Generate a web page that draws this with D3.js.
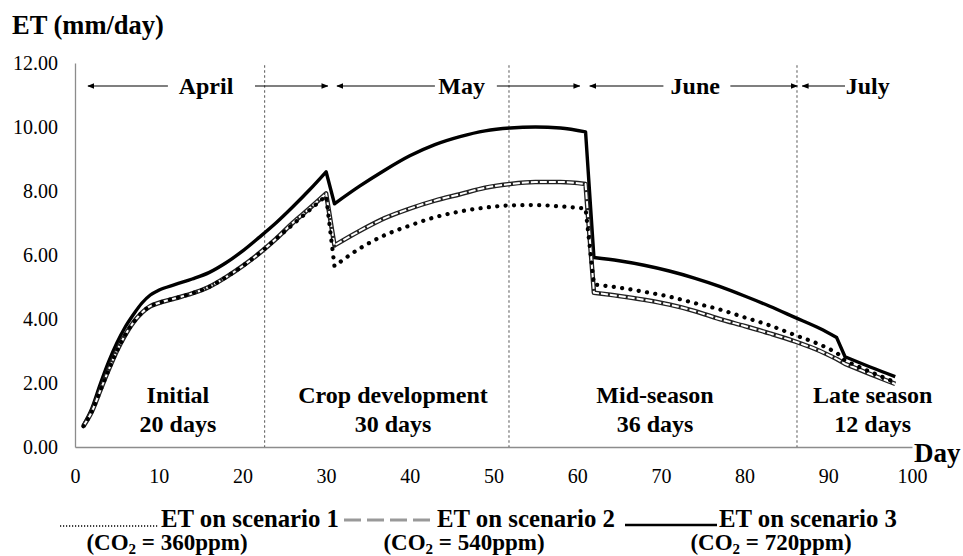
<!DOCTYPE html>
<html>
<head>
<meta charset="utf-8">
<script src="https://cdn.jsdelivr.net/npm/d3@7"></script>
<style>
  body { margin: 0; background: #fff; }
  svg, svg text { font-family: "Times New Roman", "Liberation Serif", Tinos, serif; }
</style>
</head>
<body>
<svg id="chart" width="963" height="556"></svg>
<script>
// ET (mm/day), three CO2 scenarios
const days = [1,2,3,4,5,6,7,8,9,10,12,14,16,18,20,22,24,26,28,30,31,34,37,40,43,46,49,52,55,58,61,62,65,68,71,74,77,80,83,86,89,91,92,95,98];
const et360 = [0.65,1.1,1.75,2.4,3.0,3.5,3.9,4.2,4.4,4.5,4.65,4.8,5.0,5.3,5.65,6.05,6.5,6.95,7.4,7.85,5.65,6.2,6.62,6.92,7.18,7.36,7.48,7.55,7.56,7.52,7.45,5.08,4.98,4.85,4.7,4.5,4.3,4.05,3.8,3.5,3.2,2.95,2.7,2.35,2.02];
const et540 = [0.65,1.1,1.75,2.4,3.0,3.5,3.9,4.2,4.4,4.5,4.65,4.8,5.0,5.3,5.65,6.05,6.5,7.0,7.45,7.92,6.3,6.75,7.15,7.45,7.7,7.9,8.1,8.22,8.28,8.28,8.22,4.82,4.72,4.6,4.45,4.25,4.0,3.78,3.55,3.3,3.0,2.75,2.6,2.28,1.97];
const et720 = [0.68,1.2,1.95,2.65,3.25,3.75,4.15,4.5,4.75,4.9,5.08,5.25,5.45,5.75,6.12,6.55,7.0,7.5,8.03,8.6,7.6,8.15,8.65,9.1,9.45,9.7,9.88,9.97,10.0,9.97,9.85,5.92,5.82,5.68,5.5,5.28,5.02,4.72,4.4,4.05,3.7,3.42,2.82,2.5,2.2];
// days after which the series jumps (drawn straight, not smoothed)
const breaks = [30, 61, 91];

const yTicks = [0,2,4,6,8,10,12];
const xTicks = [0,10,20,30,40,50,60,70,80,90,100];

// growth stage boundaries (day) and labels
const stageBounds = [22.66, 51.85, 86.26];
const stageNames = ['Initial', 'Crop development', 'Mid-season', 'Late season'];
const stageLengths = ['20 days', '30 days', '36 days', '12 days'];
const stageCenters = [12.3, 38, 69.3, 95.3];

// month arrows: [arrow tip, line end near label] pairs, label centre
const months = ['April', 'May', 'June', 'July'];
const monthCenters = [15.65, 46.2, 74.1, 94.7];
const monthLeft = [[1.55, 11.1], [31.3, 43], [61.5, 70.3], [86.9, 92]];
const monthRight = [[30.2, 21.5], [60.3, 50.4], [86.3, 78.3], null];

const svg = d3.select('#chart');
const x = d3.scaleLinear().domain([0, 100]).range([75, 912]);
const y = d3.scaleLinear().domain([0, 12]).range([447, 63]);

// arrow marker
svg.append('defs').append('marker')
  .attr('id', 'arr').attr('viewBox', '0 0 10 10').attr('refX', 9).attr('refY', 5)
  .attr('markerWidth', 7).attr('markerHeight', 7).attr('markerUnits', 'userSpaceOnUse')
  .attr('orient', 'auto')
  .append('path').attr('d', 'M0,1 L10,5 L0,9 Z').attr('fill', '#000');

// axes (plain lines, no ticks)
const gx = svg.append('g').attr('transform', `translate(0,${y(0)})`)
  .call(d3.axisBottom(x).tickValues(xTicks).tickSize(0).tickPadding(22).tickFormat(d3.format('d')));
gx.select('.domain').attr('stroke', '#8c8c8c').attr('stroke-width', 1.3);
gx.selectAll('text').style('font-size', '20px').attr('fill', '#000');

const gy = svg.append('g').attr('transform', `translate(${x(0)},0)`)
  .call(d3.axisLeft(y).tickValues(yTicks).tickSize(0).tickPadding(17).tickFormat(d3.format('.2f')));
gy.select('.domain').attr('stroke', '#8c8c8c').attr('stroke-width', 1.3);
gy.selectAll('text').style('font-size', '20px').attr('fill', '#000');

// stage boundaries
svg.append('g').selectAll('line').data(stageBounds).join('line')
  .attr('x1', d => x(d)).attr('x2', d => x(d))
  .attr('y1', y(11.93)).attr('y2', y(0))
  .attr('stroke', '#555').attr('stroke-width', 1).attr('stroke-dasharray', '2.5,2.5');

// month arrows
const gm = svg.append('g');
monthLeft.forEach(([tip, end]) => {
  gm.append('line').attr('x1', x(end)).attr('x2', x(tip)).attr('y1', 86).attr('y2', 86)
    .attr('stroke', '#000').attr('stroke-width', 1.2).attr('marker-end', 'url(#arr)');
});
monthRight.forEach(p => {
  if (!p) return;
  gm.append('line').attr('x1', x(p[1])).attr('x2', x(p[0])).attr('y1', 86).attr('y2', 86)
    .attr('stroke', '#000').attr('stroke-width', 1.2).attr('marker-end', 'url(#arr)');
});
gm.selectAll('text').data(months).join('text')
  .attr('x', (d, i) => x(monthCenters[i])).attr('y', 94)
  .attr('text-anchor', 'middle').attr('font-size', 24).attr('font-weight', 'bold').text(d => d);

// stage labels
const gs = svg.append('g');
gs.selectAll('text.nm').data(stageNames).join('text').attr('class', 'nm')
  .attr('x', (d, i) => x(stageCenters[i])).attr('y', 403)
  .attr('text-anchor', 'middle').attr('font-size', 24).attr('font-weight', 'bold').text(d => d);
gs.selectAll('text.ln').data(stageLengths).join('text').attr('class', 'ln')
  .attr('x', (d, i) => x(stageCenters[i])).attr('y', 432)
  .attr('text-anchor', 'middle').attr('font-size', 24).attr('font-weight', 'bold').text(d => d);

// lines: smooth inside each stage piece, straight across the jumps
const smooth = d3.line().x(d => x(d[0])).y(d => y(d[1])).curve(d3.curveMonotoneX);
function pathFor(vals) {
  const pts = days.map((d, i) => [d, vals[i]]);
  const pieces = [];
  let cur = [];
  pts.forEach(p => {
    cur.push(p);
    if (breaks.includes(p[0])) { pieces.push(cur); cur = []; }
  });
  if (cur.length) pieces.push(cur);
  return pieces.map((pc, i) => {
    const s = smooth(pc);
    return i === 0 ? s : 'L' + s.slice(1);
  }).join('');
}
const gl = svg.append('g').attr('fill', 'none').attr('stroke-linejoin', 'round');
gl.append('path').attr('d', pathFor(et720)).attr('stroke', '#000').attr('stroke-width', 3.4);
gl.append('path').attr('d', pathFor(et540)).attr('stroke', '#222').attr('stroke-width', 4.6);
gl.append('path').attr('d', pathFor(et540)).attr('stroke', '#fff').attr('stroke-width', 2)
  .attr('stroke-dasharray', '7,2');
gl.append('path').attr('d', pathFor(et360)).attr('stroke', '#000').attr('stroke-width', 4.2)
  .attr('stroke-linecap', 'round').attr('stroke-dasharray', '0.1,8.3');

// titles
svg.append('text').attr('x', 12).attr('y', 34).attr('font-size', 26.5).attr('font-weight', 'bold').text('ET (mm/day)');
svg.append('text').attr('x', 914).attr('y', 462).attr('font-size', 27).attr('font-weight', 'bold').text('Day');

// legend
const lg = svg.append('g');
lg.append('line').attr('x1', 60).attr('x2', 158).attr('y1', 526).attr('y2', 526)
  .attr('stroke', '#000').attr('stroke-width', 1.6).attr('stroke-dasharray', '1.2,1.8');
lg.append('line').attr('x1', 344).attr('x2', 436).attr('y1', 520).attr('y2', 520)
  .attr('stroke', '#999').attr('stroke-width', 3).attr('stroke-dasharray', '17,6');
lg.append('line').attr('x1', 625).attr('x2', 717).attr('y1', 525).attr('y2', 525)
  .attr('stroke', '#000').attr('stroke-width', 2.5);

const legText = ['ET on scenario 1', 'ET on scenario 2', 'ET on scenario 3'];
const legX = [161, 437, 719];
lg.selectAll('text.lt').data(legText).join('text').attr('class', 'lt')
  .attr('x', (d, i) => legX[i]).attr('y', 527)
  .attr('font-size', 25).attr('font-weight', 'bold')
  .attr('textLength', 178).attr('lengthAdjust', 'spacingAndGlyphs').text(d => d);

const co2 = ['360', '540', '720'];
const co2X = [167, 464, 771];
co2.forEach((v, i) => {
  const t = lg.append('text').attr('x', co2X[i]).attr('y', 550).attr('text-anchor', 'middle')
    .attr('font-size', 23).attr('font-weight', 'bold');
  t.append('tspan').text('(CO');
  t.append('tspan').attr('font-size', 15).attr('dy', 4).text('2');
  t.append('tspan').attr('dy', -4).text(` = ${v}ppm)`);
});
</script>
</body>
</html>
